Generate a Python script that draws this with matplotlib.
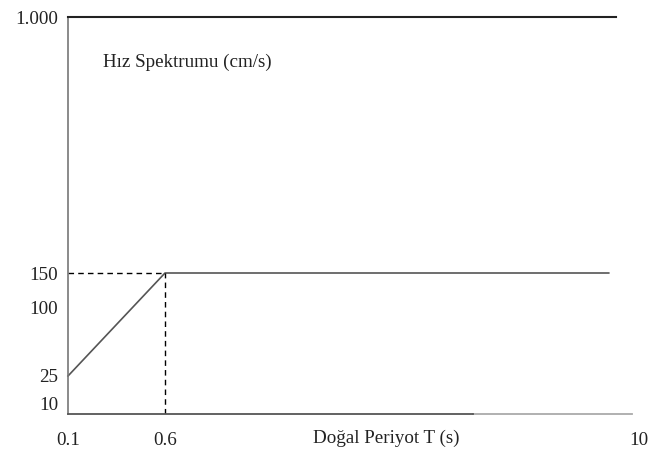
import numpy as np
import matplotlib
matplotlib.use('Agg')
import matplotlib.pyplot as plt

# Veri: hiz spektrumu (sematik)
periyot = [0.1, 0.6, 9.4]
hiz = [25, 150, 150]
x_ticks = [0.1, 0.6, 10]
x_tick_labels = ['0.1', '0.6', '10']
y_ticks = [10, 25, 100, 150, 1000]
y_tick_labels = ['10', '25', '100', '150', '1.000']

# Sematik eksen: degerler -> piksel konumu (parca parca dogrusal)
x_deger = [0.1, 0.6, 10]
x_piksel = [68, 165, 639]
y_deger = [0, 10, 25, 100, 150, 1000]
y_piksel = [41, 51, 79, 148, 182, 438]

def x_ileri(v):
    return np.interp(v, x_deger, x_piksel)

def x_geri(p):
    return np.interp(p, x_piksel, x_deger)

def y_ileri(v):
    return np.interp(v, y_deger, y_piksel)

def y_geri(p):
    return np.interp(p, y_piksel, y_deger)

plt.rcParams['font.family'] = ['Liberation Serif', 'DejaVu Serif']
plt.rcParams['font.size'] = 13.7

fig = plt.figure(figsize=(6.48, 4.55), dpi=100)
ax = fig.add_axes([68 / 648, 41 / 455, (639 - 68) / 648, (438 - 41) / 455])
ax.set_xscale('function', functions=(x_ileri, x_geri))
ax.set_yscale('function', functions=(y_ileri, y_geri))
ax.set_xlim(0.1, 10)
ax.set_ylim(0, 1000)

# spektrum cizgisi
ax.plot(periyot, hiz, color='#555555', lw=1.2, clip_on=False)

# kesikli yardimci cizgiler
ax.plot([periyot[0], periyot[1]], [hiz[1], hiz[1]], color='black', lw=1, ls=(0, (4, 3)))
ax.plot([periyot[1], periyot[1]], [0, hiz[1]], color='black', lw=1, ls=(0, (4, 3)))

# cerceve
ax.spines['right'].set_visible(False)
ax.spines['left'].set_color('#777777')
ax.spines['left'].set_linewidth(1.2)
ax.spines['top'].set_color('#222222')
ax.spines['top'].set_linewidth(1.5)
ax.spines['top'].set_bounds(0.1, x_geri(616))
ax.spines['bottom'].set_color('#555555')
ax.spines['bottom'].set_linewidth(1.3)
ax.spines['bottom'].set_bounds(0.1, x_geri(473))
ax.axhline(0, xmin=(473 - 68) / (639 - 68), xmax=(632 - 68) / (639 - 68),
           color='#aaaaaa', lw=1.3, clip_on=False)

ax.set_xticks(x_ticks)
ax.set_xticklabels(x_tick_labels)
ax.set_yticks(y_ticks)
ax.set_yticklabels(y_tick_labels)
ax.minorticks_off()
ax.tick_params(axis='both', length=0, colors='#222222')
ax.tick_params(axis='x', pad=13)
ax.tick_params(axis='y', pad=7)

ax.set_xlabel('Doğal Periyot T (s)', color='#222222', va='center')
ax.xaxis.set_label_coords(0.558, -0.0605)
ax.text(0.061, 0.887, 'Hız Spektrumu (cm/s)', transform=ax.transAxes,
        ha='left', va='center', color='#222222')

fig.savefig('out.png', dpi=100)
